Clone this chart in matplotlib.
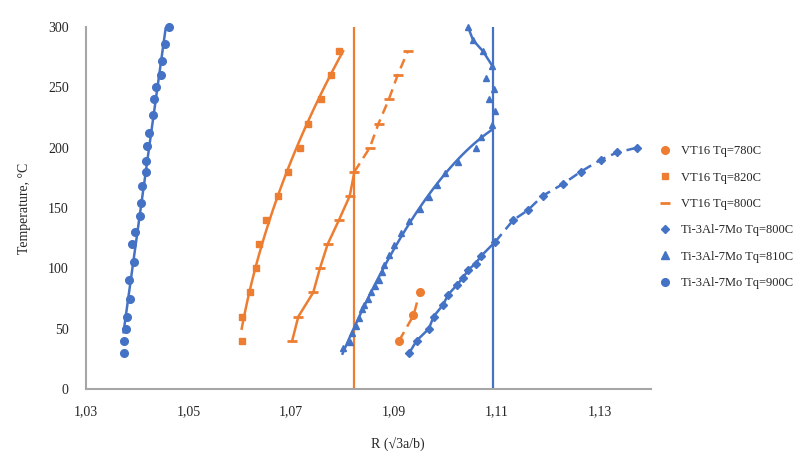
import numpy as np
import matplotlib
matplotlib.use("Agg")
import matplotlib.pyplot as plt
from matplotlib.lines import Line2D

plt.rcParams['font.family'] = ['Liberation Serif', 'DejaVu Serif']

ORANGE = '#ED7D31'
BLUE = '#4472C4'

# ---- data (R, Temperature) ----
vt16_780_R = [1.0910, 1.0938, 1.0950]
vt16_780_T = [40, 61, 80]

vt16_820_R = [1.0605, 1.0605, 1.0620, 1.0631, 1.0637, 1.0651, 1.0675, 1.0693,
              1.0717, 1.0732, 1.0759, 1.0777, 1.0794]
vt16_820_T = [40, 60, 80, 100, 120, 140, 160, 180, 200, 220, 240, 260, 280]

vt16_800_R = [1.0702, 1.0714, 1.0743, 1.0756, 1.0771, 1.0793, 1.0814, 1.0823,
              1.0853, 1.0870, 1.0890, 1.0907, 1.0927]
vt16_800_T = [40, 60, 80, 100, 120, 140, 160, 180, 200, 220, 240, 260, 280]

ti_800_R = [1.0930, 1.0944, 1.0968, 1.0977, 1.0996, 1.1005, 1.1022, 1.1034,
            1.1045, 1.1059, 1.1069, 1.1097, 1.1132, 1.1160, 1.1189, 1.1229,
            1.1263, 1.1302, 1.1334, 1.1373]
ti_800_T = [30, 40, 50, 60, 70, 78, 86, 92, 99, 104, 110, 122, 140, 148, 160,
            170, 180, 190, 196, 200]

ti_810_R = [1.0800, 1.0815, 1.0819, 1.0826, 1.0832, 1.0838, 1.0842, 1.0849,
            1.0856, 1.0863, 1.0870, 1.0876, 1.0881, 1.0891, 1.0900, 1.0913,
            1.0929, 1.0950, 1.0968, 1.0984, 1.1000, 1.1024, 1.1060, 1.1070,
            1.1090, 1.1097, 1.1085, 1.1094, 1.1080, 1.1091, 1.1073, 1.1054,
            1.1044]
ti_810_T = [34, 39, 46, 52, 59, 66, 70, 75, 80, 85, 90, 97, 103, 111, 119, 129,
            139, 149, 159, 169, 179, 188, 200, 209, 219, 230, 240, 249, 258,
            268, 280, 289, 300]

ti_900_R = [1.0374, 1.0375, 1.0378, 1.0381, 1.0387, 1.0385, 1.0395, 1.0391,
            1.0397, 1.0406, 1.0407, 1.0410, 1.0418, 1.0417, 1.0420, 1.0424,
            1.0432, 1.0433, 1.0438, 1.0446, 1.0449, 1.0455, 1.0462]
ti_900_T = [30, 40, 50, 60, 75, 90, 105, 120, 130, 143, 154, 168, 180, 189,
            201, 212, 227, 240, 250, 260, 272, 286, 300]

ref_orange_R = 1.0823
ref_blue_R = 1.1092

x_ticks = [1.03, 1.05, 1.07, 1.09, 1.11, 1.13]
x_tick_labels = ['1,03', '1,05', '1,07', '1,09', '1,11', '1,13']
y_ticks = [0, 50, 100, 150, 200, 250, 300]

labels = ['VT16 Tq=780C', 'VT16 Tq=820C', 'VT16 Tq=800C',
          'Ti-3Al-7Mo Tq=800C', 'Ti-3Al-7Mo Tq=810C', 'Ti-3Al-7Mo Tq=900C']

# ---- figure ----
W, H = 800, 461
fig = plt.figure(figsize=(W / 100, H / 100), dpi=100)
L, R_, B, T_ = 85.5, 651, 389, 27
ax = fig.add_axes([L / W, 1 - B / H, (R_ - L) / W, (B - T_) / H])
ax.set_xlim(1.03, 1.14)
ax.set_ylim(0, 300)

LW = 1.8
DASH = (0, (4, 2.5))


def trend_T_of_R(Rv, Tv, deg):
    Rv = np.asarray(Rv, float)
    Tv = np.asarray(Tv, float)
    c = np.polyfit(Rv, Tv, deg)
    xs = np.linspace(Rv.min(), Rv.max(), 100)
    return xs, np.polyval(c, xs)


def trend_R_of_T(Rv, Tv, deg, t0, t1):
    c = np.polyfit(np.asarray(Tv, float), np.asarray(Rv, float), deg)
    ts = np.linspace(t0, t1, 100)
    return np.polyval(c, ts), ts


# reference vertical lines
ax.axvline(ref_orange_R, color=ORANGE, lw=1.6, zorder=1)
ax.axvline(ref_blue_R, color=BLUE, lw=1.6, zorder=1)

# VT16 780C
ax.plot(vt16_780_R, vt16_780_T, color=ORANGE, lw=LW, ls=DASH,
        marker='o', ms=5.5, clip_on=False, zorder=3)

# VT16 820C with polynomial trendline
xs, ys = trend_R_of_T(vt16_820_R, vt16_820_T, 2, 50, vt16_820_T[-1])
ax.plot(xs, ys, color=ORANGE, lw=LW, zorder=2)
ax.plot(vt16_820_R, vt16_820_T, ls='none', marker='s', ms=5, color=ORANGE,
        clip_on=False, zorder=3)

# VT16 800C: solid lower part, dashed upper part
k = vt16_800_T.index(180)
ax.plot(vt16_800_R[:k + 1], vt16_800_T[:k + 1], color=ORANGE, lw=LW, zorder=2)
ax.plot(vt16_800_R[k:], vt16_800_T[k:], color=ORANGE, lw=LW, ls=DASH,
        zorder=2)
ax.plot(vt16_800_R, vt16_800_T, ls='none', marker='_', ms=6.5, mew=2,
        color=ORANGE, clip_on=False, zorder=3)

# Ti 800C: solid lower, dashed upper
k = ti_800_T.index(122)
ax.plot(ti_800_R[:k + 1], ti_800_T[:k + 1], color=BLUE, lw=LW, zorder=2)
ax.plot(ti_800_R[k:], ti_800_T[k:], color=BLUE, lw=LW, ls=DASH, zorder=2)
ax.plot(ti_800_R, ti_800_T, ls='none', marker='D', ms=4.5, color=BLUE,
        clip_on=False, zorder=3)

# Ti 810C: trendline on lower branch, line on upper branch
lo = [i for i, t in enumerate(ti_810_T) if t <= 219]
xs, ys = trend_T_of_R([ti_810_R[i] for i in lo], [ti_810_T[i] for i in lo], 2)
ax.plot(xs, ys, color=BLUE, lw=LW, zorder=2)
hi = [i for i, t in enumerate(ti_810_T) if t >= 268]
ax.plot([ti_810_R[i] for i in hi], [ti_810_T[i] for i in hi], color=BLUE,
        lw=LW, zorder=2)
ax.plot(ti_810_R, ti_810_T, ls='none', marker='^', ms=5, color=BLUE,
        clip_on=False, zorder=3)

# Ti 900C with linear trendline
xs, ys = trend_T_of_R(ti_900_R, ti_900_T, 1)
ax.plot(xs, ys, color=BLUE, lw=LW, zorder=2)
ax.plot(ti_900_R, ti_900_T, ls='none', marker='o', ms=5.5, color=BLUE,
        clip_on=False, zorder=3)

# axes styling
for s in ['top', 'right']:
    ax.spines[s].set_visible(False)
for s in ['left', 'bottom']:
    ax.spines[s].set_color('#A6A6A6')
    ax.spines[s].set_linewidth(1.5)
ax.set_xticks(x_ticks)
ax.set_xticklabels(x_tick_labels)
ax.set_yticks(y_ticks)
ax.tick_params(axis='both', length=0, labelsize=10, colors='#262626')
ax.tick_params(axis='x', pad=12)
ax.tick_params(axis='y', pad=12)

fig.text(398 / W, 1 - 445 / H, 'R (√3a/b)', ha='center', va='center',
         fontsize=10, color='#262626')
fig.text(25 / W, 1 - 208 / H, 'Temperature, °C', ha='center', va='center',
         rotation=90, fontsize=10, color='#262626')

handles = [
    Line2D([], [], ls='none', marker='o', ms=5.5, color=ORANGE),
    Line2D([], [], ls='none', marker='s', ms=5, color=ORANGE),
    Line2D([], [], ls='none', marker='_', ms=6.5, mew=2, color=ORANGE),
    Line2D([], [], ls='none', marker='D', ms=4.5, color=BLUE),
    Line2D([], [], ls='none', marker='^', ms=5.5, color=BLUE),
    Line2D([], [], ls='none', marker='o', ms=5.5, color=BLUE),
]
fig.legend(handles, labels, loc='upper left',
           bbox_to_anchor=(652 / W, 1 - 139 / H), frameon=False,
           borderpad=0, handlelength=1.0, handletextpad=0.85,
           labelspacing=1.15, fontsize=9, labelcolor='#262626')

fig.savefig('out.png', dpi=100)
